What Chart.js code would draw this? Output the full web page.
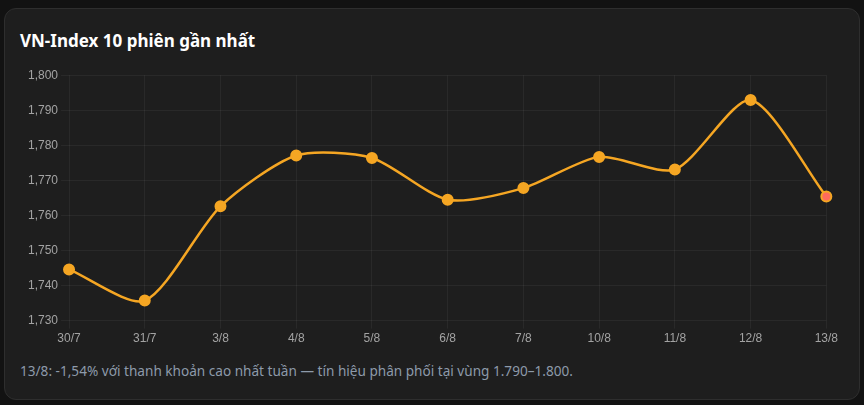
<!DOCTYPE html>
<html>
<head>
<meta charset="utf-8">
<script src="https://cdn.jsdelivr.net/npm/chart.js@4"></script>
<style>
  html, body {
    margin: 0;
    padding: 0;
    background: #121212;
    width: 864px;
    height: 405px;
    overflow: hidden;
  }
  .card {
    position: absolute;
    left: 4px;
    top: 8px;
    width: 854px;
    height: 390px;
    background: #1e1e1e;
    border: 1px solid #2e2e2e;
    border-radius: 12px;
  }
  .title {
    position: absolute;
    left: 15px;
    top: 20px;
    margin: 0;
    font: bold 17px "Noto Sans", sans-serif;
    color: #ffffff;
  }
  .chart-box {
    position: absolute;
    left: 20px;
    top: 56px;
    width: 816px;
    height: 284px;
  }
  .note {
    position: absolute;
    left: 15px;
    top: 352px;
    font: 13.6px "Noto Sans", sans-serif;
    color: #8d9aaa;
  }
</style>
</head>
<body>
<div class="card">
  <h3 class="title">VN-Index 10 phiên gần nhất</h3>
  <div class="chart-box"><canvas id="chart"></canvas></div>
  <div class="note">13/8: -1,54% với thanh khoản cao nhất tuần — tín hiệu phân phối tại vùng 1.790–1.800.</div>
</div>
<script>
const sessions = ['30/7', '31/7', '3/8', '4/8', '5/8', '6/8', '7/8', '10/8', '11/8', '12/8', '13/8'];
const closes = [1744.6, 1735.7, 1762.6, 1777.1, 1776.4, 1764.5, 1767.8, 1776.7, 1773.1, 1792.9, 1765.4];

const orange = '#f5a623';
const lastFill = '#ff6b5b';

const ctx = document.getElementById('chart').getContext('2d');
new Chart(ctx, {
  type: 'line',
  data: {
    labels: sessions,
    datasets: [{
      label: 'VN-Index',
      data: closes,
      borderColor: orange,
      borderWidth: 2.5,
      tension: 0.25,
      fill: false,
      pointRadius: 5,
      pointBorderWidth: 2,
      pointBorderColor: orange,
      pointBackgroundColor: closes.map((v, i) => i === closes.length - 1 ? lastFill : orange)
    }]
  },
  options: {
    responsive: true,
    maintainAspectRatio: false,
    animation: false,
    plugins: {
      legend: { display: false },
      tooltip: { enabled: false }
    },
    scales: {
      x: {
        grid: { color: 'rgba(255,255,255,0.05)' },
        border: { display: false },
        ticks: { color: '#a3a3a3', font: { size: 12 } }
      },
      y: {
        min: 1730,
        max: 1800,
        grid: { color: 'rgba(255,255,255,0.05)' },
        border: { display: false },
        ticks: { stepSize: 10, color: '#a3a3a3', font: { size: 12 } }
      }
    }
  }
});
</script>
</body>
</html>
